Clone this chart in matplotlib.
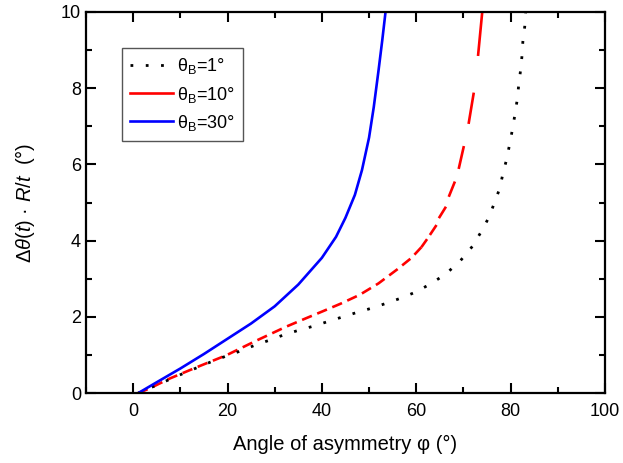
import matplotlib
matplotlib.use('Agg')
import matplotlib.pyplot as plt
from matplotlib.lines import Line2D
from matplotlib.ticker import MultipleLocator

plt.rcParams['font.family'] = ['Liberation Sans', 'DejaVu Sans']
plt.rcParams['mathtext.fontset'] = 'custom'
plt.rcParams['mathtext.rm'] = 'Liberation Sans'
plt.rcParams['mathtext.it'] = 'Liberation Sans:italic'

# theta_B = 1 deg (dotted black)
b1_x = [1, 10.6, 16.6, 19.8, 23, 26, 29.1, 32.1, 35.3, 38.5, 41.5, 44.6, 47.7, 50.8,
        53.9, 57.1, 60, 63.2, 66.3, 69.4, 71.9, 73.8, 75.4, 76.6, 77.7, 78.4, 79.2,
        79.8, 80.4, 80.9, 81.4, 81.7, 82.1, 82.4, 82.6, 83.0, 83.2]
b1_y = [0, 0.52, 0.83, 0.98, 1.12, 1.27, 1.40, 1.54, 1.66, 1.77, 1.89, 2.01, 2.13, 2.24,
        2.37, 2.51, 2.66, 2.88, 3.13, 3.48, 3.85, 4.24, 4.61, 5.0, 5.37, 5.77, 6.15,
        6.53, 6.92, 7.29, 7.69, 8.05, 8.45, 8.82, 9.21, 9.61, 10.0]

# theta_B = 10 deg (red), lower part short dashes
b10_x = [1, 3.5, 7.8, 13.4, 19.8, 26.1, 32.5, 36.7, 40, 44, 48, 52, 56, 59, 61.1]
b10_y = [0, 0.13, 0.39, 0.68, 1.0, 1.38, 1.75, 1.97, 2.14, 2.35, 2.58, 2.88, 3.25, 3.55, 3.83]
# upper part: start/end points of each long dash
b10_dash_x = [61.1, 62.3, 62.9, 64.3, 64.8, 66.3, 66.9, 68.2, 69.0, 70.1, 71.1, 72.2, 73.1, 74.0]
b10_dash_y = [3.83, 4.04, 4.15, 4.41, 4.59, 4.89, 5.15, 5.55, 5.88, 6.48, 7.06, 7.88, 8.84, 10.0]

# theta_B = 30 deg (solid blue)
b30_x = [1, 5, 10, 15, 20, 25, 30, 35, 40, 43, 45, 47, 48.5, 50, 51, 52, 52.8, 53.5]
b30_y = [0, 0.29, 0.65, 1.03, 1.43, 1.83, 2.28, 2.85, 3.55, 4.1, 4.6, 5.2, 5.85, 6.7,
         7.5, 8.45, 9.25, 10.0]

labels = ['θ$_{\\mathrm{B}}$=1°', 'θ$_{\\mathrm{B}}$=10°', 'θ$_{\\mathrm{B}}$=30°']

fig = plt.figure(figsize=(6.23, 4.63), dpi=100)
ax = fig.add_axes([0.138, 0.1505, 0.833, 0.8242])

ax.plot(b10_x, b10_y, color='red', lw=1.9, ls=(0, (4, 2.2)), dash_capstyle='butt')
for i in range(0, len(b10_dash_x) - 1, 2):
    ax.plot(b10_dash_x[i:i+2], b10_dash_y[i:i+2], color='red', lw=1.9,
            solid_capstyle='butt')
ax.plot(b1_x, b1_y, color='black', lw=2.0, ls=(0, (1, 4.5)))
ax.plot(b30_x, b30_y, color='blue', lw=1.9)

ax.set_xlim(-10, 100)
ax.set_ylim(0, 10)
ax.xaxis.set_major_locator(MultipleLocator(20))
ax.xaxis.set_minor_locator(MultipleLocator(10))
ax.yaxis.set_major_locator(MultipleLocator(2))
ax.yaxis.set_minor_locator(MultipleLocator(1))
ax.tick_params(which='both', direction='in', top=True, right=True, labelsize=13, width=1.5)
ax.tick_params(which='major', length=7)
ax.tick_params(which='minor', length=4)
ax.tick_params(axis='x', pad=7)
for s in ax.spines.values():
    s.set_linewidth(1.6)

ax.set_xlabel('Angle of asymmetry φ (°)', fontsize=14.5, labelpad=11)
ax.set_ylabel('$\\Delta\\theta(t)$ · $R/t$  (°)', fontsize=14.5, labelpad=17)

handles = [Line2D([], [], color='black', lw=2.0, ls=(0, (1, 4.5))),
           Line2D([], [], color='red', lw=1.9),
           Line2D([], [], color='blue', lw=1.9)]
leg = ax.legend(handles, labels, loc='upper left', bbox_to_anchor=(0.1953, 0.8957),
                bbox_transform=fig.transFigure, borderaxespad=0, fontsize=13,
                handlelength=2.4, handletextpad=0.2, labelspacing=0.45,
                borderpad=0.45, fancybox=False, framealpha=1)
leg.get_frame().set_edgecolor('#555555')
leg.get_frame().set_linewidth(1.0)

fig.savefig('out.png', dpi=100)
